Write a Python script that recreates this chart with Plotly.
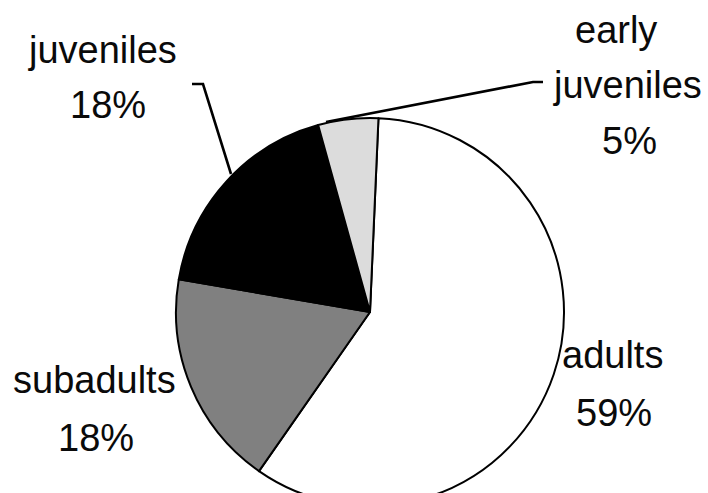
import plotly.graph_objects as go

# ---- data ----
categories = ["adults", "subadults", "juveniles", "early<br>juveniles"]
label_lines = [["adults"], ["subadults"], ["juveniles"], ["early", "juveniles"]]
percent_values = [59, 18, 18, 5]
slice_colors = ["#ffffff", "#808080", "#000000", "#dcdcdc"]

W, H = 708, 624  # figure taller than the window so the pie bottom is cut off like the reference
CX, CY, R = 370, 312, 194

def px(x):
    return x / W

def py(y):
    return 1 - y / H

fig = go.Figure(go.Pie(
    labels=categories,
    values=percent_values,
    sort=False,
    direction="clockwise",
    rotation=2.5,
    textinfo="none",
    hoverinfo="label+percent",
    marker=dict(colors=slice_colors, line=dict(color="#000000", width=2)),
    domain=dict(x=[px(CX - R), px(CX + R)], y=[0, 1]),
    showlegend=False,
))

FONT = dict(family="Liberation Sans, Arial, sans-serif", size=38, color="#0a0a0a")

# label placement: (x centres, baselines) per text line
label_layout = {
    "adults": ([612, 614], [367, 425]),
    "subadults": ([94, 96], [392, 450]),
    "juveniles": ([102, 108], [62, 117]),
    "early<br>juveniles": ([616, 627, 629], [42, 97, 153]),
}

annotations = []
for cat, lines, val in zip(categories, label_lines, percent_values):
    xs, bases = label_layout[cat]
    texts = lines + [f"{val}%"]
    for t, x, b in zip(texts, xs, bases):
        annotations.append(dict(
            text=t, x=px(x), y=py(b - 12), xref="paper", yref="paper",
            xanchor="center", yanchor="middle", showarrow=False, font=FONT,
        ))

def path(points):
    return "M " + " L ".join(f"{px(x)},{py(y)}" for x, y in points)

shapes = [
    dict(type="path", xref="paper", yref="paper",
         path=path([(192, 84), (203, 84), (231, 174)]),
         line=dict(color="#000000", width=2.6)),
    dict(type="path", xref="paper", yref="paper",
         path=path([(326, 122), (533, 82), (543, 82)]),
         line=dict(color="#000000", width=2.6)),
]

fig.update_layout(
    width=W, height=H,
    margin=dict(l=0, r=0, t=0, b=0),
    paper_bgcolor="#ffffff",
    plot_bgcolor="#ffffff",
    annotations=annotations,
    shapes=shapes,
)

fig.write_html(
    "out.html",
    post_script="document.documentElement.style.overflow='hidden';document.body.style.overflow='hidden';document.body.style.margin='0';",
)
